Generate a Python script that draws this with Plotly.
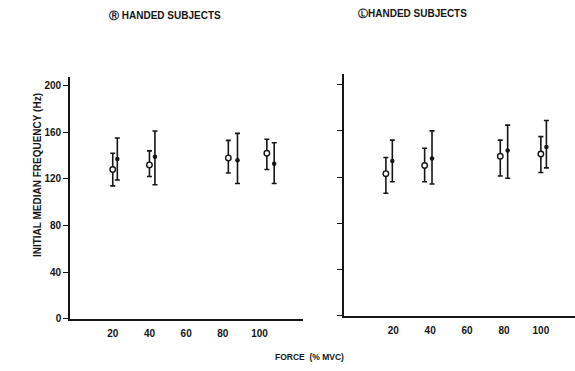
import plotly.graph_objects as go

W, H = 575, 371

# ---- data ----
x_ticks = [20, 40, 60, 80, 100]
y_ticks = [0, 40, 80, 120, 160, 200]

# Right-handed subjects
R_open_x = [20, 40, 83, 104]
R_open_y = [128, 132, 138, 142]
R_open_hi = [142, 144, 153, 154]
R_open_lo = [114, 122, 125, 128]
R_fill_x = [22.5, 43, 88, 108]
R_fill_y = [137, 139, 136, 133]
R_fill_hi = [155, 161, 159, 151]
R_fill_lo = [119, 115, 116, 116]

# Left-handed subjects
L_open_x = [16, 37, 78, 100]
L_open_y = [123, 130, 138, 140]
L_open_hi = [137, 145, 152, 155]
L_open_lo = [106, 116, 121, 124]
L_fill_x = [19.5, 41, 82, 103]
L_fill_y = [134, 136, 143, 146]
L_fill_hi = [152, 160, 165, 169]
L_fill_lo = [116, 114, 119, 128]

INK = "#151515"
FONT = "Liberation Sans, Arial, sans-serif"


def err(y, hi, lo):
    return dict(type="data", symmetric=False,
                array=[h - v for h, v in zip(hi, y)],
                arrayminus=[v - l for v, l in zip(y, lo)],
                color=INK, thickness=1.6, width=2.5)


fig = go.Figure()

def add_panel(xo, yo, hio, loo, xf, yf, hif, lof, xa, ya):
    fig.add_trace(go.Scatter(x=xf, y=yf, mode="markers", xaxis=xa, yaxis=ya,
                             marker=dict(symbol="circle", size=4.5, color=INK),
                             error_y=err(yf, hif, lof), showlegend=False))
    fig.add_trace(go.Scatter(x=xo, y=yo, mode="markers", xaxis=xa, yaxis=ya,
                             marker=dict(symbol="circle", size=5.5, color="white",
                                         line=dict(color=INK, width=1.4)),
                             error_y=err(yo, hio, loo), showlegend=False))

add_panel(R_open_x, R_open_y, R_open_hi, R_open_lo,
          R_fill_x, R_fill_y, R_fill_hi, R_fill_lo, "x", "y")
add_panel(L_open_x, L_open_y, L_open_hi, L_open_lo,
          L_fill_x, L_fill_y, L_fill_hi, L_fill_lo, "x2", "y2")

tickfont = dict(family=FONT, size=10, color=INK, weight="bold")
common_x = dict(showgrid=False, zeroline=False, showline=True, linecolor=INK,
                linewidth=1.6, ticks="", tickvals=x_ticks,
                ticktext=[str(v) for v in x_ticks], tickfont=tickfont,
                ticklabelstandoff=4)
common_y = dict(showgrid=False, zeroline=False, showline=True, linecolor=INK,
                linewidth=1.6, ticks="outside", ticklen=5, tickwidth=1.4,
                tickcolor=INK, tickvals=y_ticks, tickfont=tickfont)

fig.update_layout(
    width=W, height=H,
    margin=dict(l=0, r=0, t=0, b=0),
    paper_bgcolor="white", plot_bgcolor="white",
    xaxis=dict(common_x, domain=[70 / W, 303 / W], range=[-3.3, 123.7],
               anchor="y"),
    yaxis=dict(common_y, domain=[1 - 324 / H, 1 - 78 / H], range=[0, 207.6],
               anchor="x", ticktext=[str(v) for v in y_ticks]),
    xaxis2=dict(common_x, domain=[344 / W, 1.0], range=[-6.7, 118.5],
                anchor="y2"),
    yaxis2=dict(common_y, domain=[1 - 321 / H, 1 - 75 / H], range=[0, 209.4],
                anchor="x2", showticklabels=False),
    annotations=[
        dict(text="<b>INITIAL MEDIAN FREQUENCY (Hz)</b>", textangle=-90,
             x=37 / W, y=1 - 178 / H, xref="paper", yref="paper",
             showarrow=False, xanchor="center", yanchor="middle",
             font=dict(family=FONT, size=10, color=INK)),
        dict(text="<b>FORCE  (% MVC)</b>", x=309 / W, y=1 - 363 / H,
             xref="paper", yref="paper", showarrow=False,
             xanchor="center", yanchor="middle",
             font=dict(family=FONT, size=8.5, color=INK)),
        dict(text="<b>Ⓡ HANDED SUBJECTS</b>", x=165 / W, y=1 - 16 / H,
             xref="paper", yref="paper", showarrow=False,
             xanchor="center", yanchor="middle",
             font=dict(family=FONT, size=10, color=INK)),
        dict(text="<b>ⓁHANDED SUBJECTS</b>", x=412 / W, y=1 - 14 / H,
             xref="paper", yref="paper", showarrow=False,
             xanchor="center", yanchor="middle",
             font=dict(family=FONT, size=10, color=INK)),
    ],
)

fig.write_html("out.html")
